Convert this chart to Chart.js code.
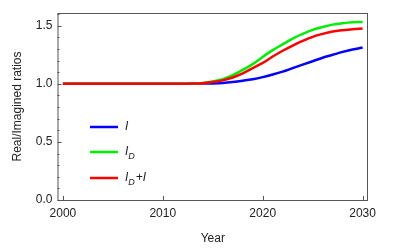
<!DOCTYPE html>
<html lang="en">
<head>
  <meta charset="UTF-8">
  <title>Real/Imagined ratios</title>
  <script src="https://cdn.jsdelivr.net/npm/chart.js"></script>
  <style>
    html, body { margin: 0; padding: 0; background: #fff; }
    #wrap { width: 396px; height: 248px; }
  </style>
</head>
<body>
  <div id="wrap"><canvas id="ratioChart" width="396" height="248"></canvas></div>

  <script>
    // values, one per year
    const years = [2000, 2001, 2002, 2003, 2004, 2005, 2006, 2007, 2008, 2009, 2010,
                   2011, 2012, 2013, 2014, 2015, 2016, 2017, 2018, 2019, 2020,
                   2021, 2022, 2023, 2024, 2025, 2026, 2027, 2028, 2029, 2030];
    const seriesI = [1, 1, 1, 1, 1, 1, 1, 1, 1, 1, 1,
                     1, 1, 1.0, 1.002, 1.004, 1.008, 1.016, 1.027, 1.04, 1.058,
                     1.08, 1.105, 1.135, 1.165, 1.195, 1.225, 1.25, 1.275, 1.295, 1.313];
    const seriesID = [1, 1, 1, 1, 1, 1, 1, 1, 1, 1, 1,
                      1, 1, 1.002, 1.008, 1.02, 1.04, 1.075, 1.12, 1.17, 1.232,
                      1.29, 1.34, 1.39, 1.43, 1.465, 1.49, 1.51, 1.522, 1.53, 1.533];
    const seriesIDI = [1, 1, 1, 1, 1, 1, 1, 1, 1, 1, 1,
                       1, 1, 1.002, 1.006, 1.015, 1.03, 1.055, 1.09, 1.135, 1.18,
                       1.235, 1.285, 1.33, 1.37, 1.405, 1.43, 1.45, 1.462, 1.471, 1.476];
    const xTicks = [2000, 2010, 2020, 2030];
    const yTicks = [0, 0.5, 1.0, 1.5];

    const FONT = 'Liberation Sans, Arial, sans-serif';
    const FRAME = '#555';

    function pts(vals) {
      return years.map((y, i) => ({ x: y, y: vals[i] }));
    }

    // frame, inward ticks and the inset legend
    const framePlugin = {
      id: 'frame',
      afterDraw(chart) {
        const c = chart.ctx;
        const a = chart.chartArea;
        const xs = chart.scales.x, ys = chart.scales.y;
        c.save();
        c.strokeStyle = FRAME;
        c.lineWidth = 1;
        c.strokeRect(a.left + 0.5, a.top + 0.5, a.right - a.left - 1, a.bottom - a.top);
        c.beginPath();
        xTicks.forEach(v => {
          const px = Math.round(xs.getPixelForValue(v)) + 0.5;
          c.moveTo(px, a.bottom);
          c.lineTo(px, a.bottom - 4);
        });
        for (let k = 0; k <= 16; k++) {
          const v = k / 10;
          const py = Math.round(ys.getPixelForValue(v)) + 0.5;
          const len = (k % 5 === 0) ? 4 : 2;
          c.moveTo(a.left, py);
          c.lineTo(a.left + len, py);
        }
        c.stroke();

        // legend
        const items = [
          { color: '#0000ff', main: 'I', sub: '', tail: '' },
          { color: '#00ee00', main: 'I', sub: 'D', tail: '' },
          { color: '#ff0000', main: 'I', sub: 'D', tail: '+I' }
        ];
        const rows = [127, 152, 178];
        items.forEach((it, i) => {
          const y = rows[i];
          c.strokeStyle = it.color;
          c.lineWidth = 2.5;
          c.beginPath();
          c.moveTo(90, y);
          c.lineTo(118, y);
          c.stroke();
          c.fillStyle = '#222';
          c.textBaseline = 'middle';
          c.textAlign = 'left';
          let x = 125;
          c.font = 'italic 12px ' + FONT;
          c.fillText(it.main, x, y);
          x += c.measureText(it.main).width;
          if (it.sub) {
            c.font = 'italic 9px ' + FONT;
            c.fillText(it.sub, x, y + 4);
            x += c.measureText(it.sub).width + 1;
          }
          if (it.tail) {
            c.font = 'italic 12px ' + FONT;
            c.fillText(it.tail, x, y);
          }
        });
        c.restore();
      }
    };

    const ctx = document.getElementById('ratioChart').getContext('2d');
    new Chart(ctx, {
      type: 'line',
      data: {
        datasets: [
          { label: 'I', data: pts(seriesI), borderColor: '#0000ff', order: 2 },
          { label: 'I_D', data: pts(seriesID), borderColor: '#00ee00', order: 1 },
          { label: 'I_D+I', data: pts(seriesIDI), borderColor: '#ff0000', order: 0 }
        ]
      },
      options: {
        responsive: false,
        animation: false,
        layout: { padding: { top: 13, right: 28, left: 0, bottom: 0 } },
        elements: {
          point: { radius: 0 },
          line: { borderWidth: 2.5, cubicInterpolationMode: 'monotone', fill: false }
        },
        plugins: { legend: { display: false }, tooltip: { enabled: false } },
        scales: {
          x: {
            type: 'linear',
            min: 1999.46,
            max: 2030.54,
            afterBuildTicks: s => { s.ticks = xTicks.map(v => ({ value: v })); },
            afterFit: s => { s.height = 48; },
            grid: { display: false, drawTicks: false },
            border: { display: false },
            ticks: { color: '#222', font: { family: FONT, size: 12 }, padding: 6, maxRotation: 0,
                      callback: v => String(v) },
            title: { display: true, text: 'Year', color: '#222',
                     font: { family: FONT, size: 12 }, padding: { top: 0, bottom: 2 } }
          },
          y: {
            min: 0,
            max: 1.61,
            afterBuildTicks: s => { s.ticks = yTicks.map(v => ({ value: v })); },
            afterFit: s => { s.width = 57.5; },
            grid: { display: false, drawTicks: false },
            border: { display: false },
            ticks: { color: '#222', font: { family: FONT, size: 12 }, padding: 5,
                      callback: v => v.toFixed(1) },
            title: { display: true, text: 'Real/Imagined ratios', color: '#222',
                     font: { family: FONT, size: 12 }, padding: { top: 10, bottom: 0 } }
          }
        }
      },
      plugins: [framePlugin]
    });
  </script>
</body>
</html>
